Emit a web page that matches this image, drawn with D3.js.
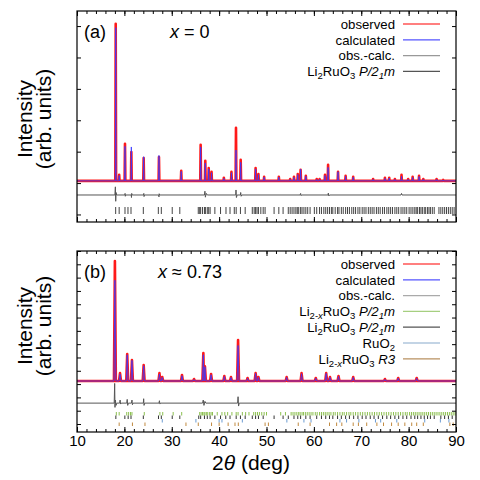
<!DOCTYPE html>
<html><head><meta charset="utf-8">
<script src="https://cdn.jsdelivr.net/npm/d3@7"></script>
<style>
body{margin:0;background:#fff}
svg{display:block}
text{font-family:"Liberation Sans",Arial,Helvetica,sans-serif;fill:#000}
</style>
</head><body><svg id="c" width="480" height="480"></svg>
<script>
// ---------- data ----------
const xTicks = [10, 20, 30, 40, 50, 60, 70, 80, 90];
const xMinorTicks = [10,12,14,16,18,20,22,24,26,28,30,32,34,36,38,40,42,44,46,48,50,52,54,56,58,60,62,64,66,68,70,72,74,76,78,80,82,84,86,88,90];
const yTicksA = [-1, 0, 1, 2, 3, 4, 5];
const yTicksB = [-3, -2, -1, 0, 1, 2, 3, 4, 5, 6, 7, 8, 9, 10];

// panel (a): x = 0
const baseA = 0.07;
const peakPosA = [18.17,18.9,20.13,21.47,24.07,27.3,32.0,36.1,37.08,37.8,38.4,41.0,42.6,43.56,44.55,47.7,48.3,49.5,52.6,55.0,55.8,56.6,57.2,58.3,60.6,61.2,62.35,63.0,65.1,66.7,68.3,72.5,75.0,75.9,77.1,78.5,79.9,80.85,82.2,83.1,85.9,87.3];
const obsTopA = [5.07,0.26,1.25,0.99,0.80,0.83,0.39,1.22,0.71,0.48,0.36,0.17,0.36,1.76,0.74,0.48,0.29,0.20,0.20,0.13,0.20,0.29,0.42,0.23,0.13,0.13,0.26,0.58,0.36,0.23,0.20,0.13,0.17,0.17,0.13,0.26,0.13,0.20,0.23,0.13,0.13,0.10];
const calcTopA = [4.95,0.24,1.17,1.15,0.84,0.88,0.37,1.15,0.64,0.45,0.33,0.15,0.33,1.05,0.66,0.45,0.27,0.19,0.19,0.12,0.18,0.27,0.44,0.22,0.12,0.12,0.24,0.50,0.36,0.22,0.19,0.12,0.15,0.16,0.12,0.22,0.12,0.18,0.21,0.12,0.12,0.10];
const diffA = [[10,-0.38],[18.0,-0.38],[18.1,-0.12],[18.17,-0.58],[18.25,-0.3],[18.35,-0.38],[20.1,-0.38],[20.15,-0.33],[20.2,-0.42],[20.3,-0.38],[21.45,-0.38],[21.5,-0.46],[21.55,-0.33],[21.65,-0.38],[24.05,-0.38],[24.1,-0.33],[24.15,-0.43],[24.25,-0.38],[27.25,-0.38],[27.3,-0.44],[27.35,-0.34],[27.45,-0.38],[36.9,-0.38],[37.0,-0.26],[37.1,-0.45],[37.3,-0.33],[37.5,-0.38],[43.5,-0.38],[43.56,-0.22],[43.65,-0.46],[43.8,-0.38],[44.5,-0.38],[44.55,-0.3],[44.65,-0.42],[44.8,-0.38],[57.1,-0.38],[57.2,-0.33],[57.3,-0.4],[57.4,-0.38],[63.0,-0.38],[63.05,-0.32],[63.15,-0.41],[63.3,-0.38],[78.4,-0.38],[78.5,-0.33],[78.6,-0.38],[90,-0.38]];
const braggA = [18.16,18.9,20.13,20.76,21.4,24.0,27.17,27.8,30.1,31.7,35.6,35.9,36.1,36.5,36.9,37.1,37.5,37.8,38.1,39.1,40.3,41.45,42.3,43.2,43.6,44.5,45.5,47.0,47.4,47.7,48.0,48.3,48.8,49.3,49.7,51.6,52.6,53.5,54.6,55.0,55.4,55.8,56.2,56.5,56.8,57.2,57.5,57.9,58.3,58.7,59.2,60.1,60.6,61.2,61.6,62.1,62.5,62.9,63.3,63.7,64.0,64.5,65.0,65.3,65.8,66.2,66.7,67.1,67.5,68.0,68.4,68.8,69.3,69.7,70.2,70.6,71.0,71.5,71.9,72.3,72.7,73.2,73.6,74.0,74.5,74.9,75.4,75.8,76.2,76.6,77.1,77.5,77.9,78.4,78.8,79.2,79.6,80.1,80.5,80.9,81.3,81.6,81.9,82.3,82.6,82.9,83.3,83.6,84.0,84.3,84.6,85.0,85.4,86.4,86.8,87.2,87.6,88.0,88.4,88.8,89.2,89.6];

// panel (b): x ~ 0.73
const baseB = 0.23;
const peakPosB = [18.0,19.08,20.6,21.6,24.07,27.4,28.0,32.16,34.7,36.67,37.0,38.3,41.1,42.5,44.0,46.0,47.7,48.3,54.25,57.4,60.4,62.6,63.4,65.2,68.3,75.0,77.8,81.7];
const obsTopB = [9.25,0.83,2.26,1.81,1.43,0.83,0.53,0.68,0.38,2.33,1.33,0.76,0.61,0.53,3.31,0.46,0.83,0.53,0.53,0.83,0.46,0.83,0.53,0.61,0.53,0.38,0.46,0.46];
const calcTopB = [7.8,0.75,2.2,1.78,1.38,0.75,0.5,0.63,0.35,2.2,1.3,0.7,0.57,0.5,2.9,0.43,0.8,0.5,0.5,0.78,0.44,0.8,0.5,0.58,0.5,0.36,0.44,0.44];
const diffB = [[10,-1.43],[17.85,-1.43],[17.95,0.05],[18.02,-1.75],[18.1,-1.2],[18.25,-1.6],[18.4,-1.43],[19.0,-1.43],[19.1,-1.2],[19.2,-1.5],[19.35,-1.43],[20.5,-1.43],[20.6,-1.15],[20.7,-1.6],[20.85,-1.43],[21.5,-1.43],[21.6,-1.2],[21.7,-1.55],[21.85,-1.43],[24.0,-1.43],[24.07,-1.1],[24.15,-1.6],[24.3,-1.43],[27.3,-1.43],[27.4,-1.25],[27.5,-1.5],[27.6,-1.43],[36.5,-1.43],[36.65,-1.2],[36.8,-1.6],[37.0,-1.3],[37.2,-1.43],[43.9,-1.43],[44.0,-0.95],[44.1,-1.65],[44.25,-1.43],[90,-1.43]];
const braggGreenB = [18.3,18.9,20.5,20.9,21.3,21.6,24.2,27.5,28.1,30.3,32.1,35.9,36.2,36.5,36.8,37.0,37.3,37.6,38.0,38.3,38.6,39.6,40.6,41.2,41.8,42.7,43.6,44.0,44.9,45.6,46.3,47.3,47.7,48.1,48.5,49.0,49.5,50.0,53.0,54.0,55.2,55.6,56.0,56.4,56.8,57.1,57.5,57.8,58.2,58.6,59.0,59.4,59.8,60.3,60.7,61.2,61.6,62.0,62.4,62.8,63.2,63.6,64.1,64.5,65.0,65.5,66.0,66.4,66.9,67.4,67.8,68.3,68.8,69.3,69.8,70.3,70.8,71.3,71.8,72.3,72.8,73.3,73.8,74.3,74.8,75.3,75.8,76.3,76.8,77.3,77.8,78.3,78.8,79.3,79.7,80.2,80.6,81.0,81.4,81.8,82.2,82.6,83.0,83.4,83.8,84.2,84.6,85.0,85.4,85.8,86.2,86.6,87.0,87.4,87.8,88.2,88.6,89.0,89.4,89.8];
const braggBlackB = [18.2,20.1,20.8,21.4,24.0,27.2,27.8,30.1,31.7,35.7,36.1,36.9,37.5,38.1,39.1,40.3,41.4,42.3,43.6,44.5,45.5,47.0,47.7,48.3,49.3,51.6,53.5,54.6,55.8,56.6,57.2,58.3,59.2,60.6,61.6,62.5,63.3,64.0,65.0,65.8,66.7,67.5,68.4,69.3,70.2,71.0,71.9,72.7,73.6,74.5,75.4,76.2,77.1,77.9,78.8,79.6,80.5,81.3,81.9,82.6,83.3,84.0,84.6,85.4,86.8,87.6,88.4,89.2];
const braggBlueB = [28.0,35.1,40.0,40.6,44.9,54.3,57.9,59.4,65.5,66.9,69.5,73.0,74.1,77.5,83.4,86.7,88.5];
const braggOrangeB = [18.9,21.7,24.35,33.0,35.6,38.4,40.0,41.9,43.35,44.05,49.7,50.4,56.7,59.2,63.3,64.8,65.9,68.3,69.4,71.15,73.3,74.7,76.4,77.8,79.2,80.65,81.7,83.1,88.7,89.4];

const legendA = [
  {segs: [["observed",""]], color: "#ff0000"},
  {segs: [["calculated",""]], color: "#5555ff"},
  {segs: [["obs.-calc.",""]], color: "#999999"},
  {segs: [["Li",""],["2","sub"],["RuO",""],["3","sub"],[" ",""],["P/2","it"],["1","subit"],["m","it"]], color: "#555555"}
];
const legendB = [
  {segs: [["observed",""]], color: "#ff0000"},
  {segs: [["calculated",""]], color: "#5555ff"},
  {segs: [["obs.-calc.",""]], color: "#aaaaaa"},
  {segs: [["Li",""],["2-","sub"],["x","subit"],["RuO",""],["3","sub"],[" ",""],["P/2","it"],["1","subit"],["m","it"]], color: "#a6cf80"},
  {segs: [["Li",""],["2","sub"],["RuO",""],["3","sub"],[" ",""],["P/2","it"],["1","subit"],["m","it"]], color: "#555555"},
  {segs: [["RuO",""],["2","sub"]], color: "#88aacc"},
  {segs: [["Li",""],["2-","sub"],["x","subit"],["RuO",""],["3","sub"],[" ",""],["R3","it"]], color: "#b89060"}
];

// ---------- drawing ----------
const svg = d3.select("#c");
const L = 77, R = 456;
const x = d3.scaleLinear().domain([10, 90]).range([L, R]);

function peakLine(pos, tops, base, hw) {
  const pts = [[10, base], [90, base]];
  pos.forEach((p, i) => { pts.push([p - hw, base], [p, tops[i]], [p + hw, base]); });
  pts.sort((a, b) => a[0] - b[0]);
  return pts;
}

function rich(t, segs) {
  let shifted = false;
  segs.forEach(([s, st]) => {
    const sp = t.append("tspan").text(s);
    const sub = st.includes("sub");
    if (sub && !shifted) { sp.attr("dy", 3); shifted = true; }
    else if (!sub && shifted) { sp.attr("dy", -3); shifted = false; }
    if (sub) sp.attr("font-size", "0.72em");
    if (st.includes("it")) sp.attr("font-style", "italic");
  });
}

function panel(cfg) {
  const y = d3.scaleLinear().domain(cfg.yDomain).range([cfg.bottom, cfg.top]);
  const g = svg.append("g");
  const line = d3.line().x(d => x(d[0])).y(d => y(d[1]));
  g.append("defs").append("clipPath").attr("id", "clip" + cfg.id)
    .append("rect").attr("x", L).attr("y", cfg.top).attr("width", R - L).attr("height", cfg.bottom - cfg.top);
  const pg = g.append("g").attr("clip-path", `url(#clip${cfg.id})`);
  pg.append("path").attr("d", line(peakLine(cfg.pos, cfg.obs, cfg.base, cfg.hw)))
    .attr("fill", "none").attr("stroke", "#ff0000").attr("stroke-width", 2.6).attr("stroke-linejoin", "round").attr("opacity", 0.9);
  pg.append("path").attr("d", line(peakLine(cfg.pos, cfg.calc, cfg.base, cfg.hw)))
    .attr("fill", "none").attr("stroke", "#3a3aff").attr("stroke-width", 1).attr("stroke-linejoin", "round").attr("opacity", 0.85);
  pg.append("path").attr("d", line(cfg.diff)).attr("fill", "none").attr("stroke", "#555").attr("stroke-width", 1);
  cfg.bragg.forEach(b => {
    pg.append("g").selectAll("line").data(b.data).join("line")
      .attr("x1", d => x(d)).attr("x2", d => x(d))
      .attr("y1", b.y1).attr("y2", b.y2)
      .attr("stroke", b.color).attr("stroke-width", 1);
  });

  // axes
  const ax = (gen, tr) => { const a = g.append("g").attr("transform", tr).call(gen); a.select(".domain").remove(); a.selectAll("line").attr("stroke", "#000"); return a; };
  ax(d3.axisBottom(x).tickValues(xMinorTicks).tickSize(-3).tickFormat(""), `translate(0,${cfg.bottom})`);
  const xb = ax(d3.axisBottom(x).tickValues(xTicks).tickSize(-5).tickPadding(3).tickFormat(cfg.labels ? d3.format("d") : ""), `translate(0,${cfg.bottom})`);
  xb.selectAll("text").attr("font-size", 15).attr("font-family", '"Liberation Sans",Arial,sans-serif').attr("fill", "#000");
  ax(d3.axisTop(x).tickValues(xMinorTicks).tickSize(-3).tickFormat(""), `translate(0,${cfg.top})`);
  ax(d3.axisTop(x).tickValues(xTicks).tickSize(-5).tickFormat(""), `translate(0,${cfg.top})`);
  ax(d3.axisLeft(y).tickValues(cfg.yTicks).tickSize(-4).tickFormat(""), `translate(${L},0)`);
  ax(d3.axisRight(y).tickValues(cfg.yTicks).tickSize(-4).tickFormat(""), `translate(${R},0)`);
  g.append("rect").attr("x", L).attr("y", cfg.top).attr("width", R - L).attr("height", cfg.bottom - cfg.top)
    .attr("fill", "none").attr("stroke", "#000").attr("stroke-width", 1.2);

  // legend
  cfg.legend.forEach((e, i) => {
    const cy = cfg.top + 13 + i * 15.8;
    const t = g.append("text").attr("x", 395).attr("y", cy + 4.7).attr("text-anchor", "end").attr("font-size", 13.2);
    rich(t, e.segs);
    g.append("line").attr("x1", 403).attr("x2", 440).attr("y1", cy).attr("y2", cy).attr("stroke", e.color).attr("stroke-width", 1.2);
  });

  // panel labels
  g.append("text").attr("x", 84).attr("y", cfg.top + 27).attr("font-size", 18).text(cfg.tag);
  const xt = g.append("text").attr("x", cfg.xLabelX).attr("y", cfg.top + 27).attr("font-size", 18);
  xt.append("tspan").attr("font-style", "italic").text("x");
  xt.append("tspan").text(cfg.xText);

  // y label
  const yl = g.append("g").attr("transform", `translate(0,${cfg.yLabelY})`);
  yl.append("text").attr("transform", "translate(32,0) rotate(-90)").attr("text-anchor", "middle").attr("font-size", 21).text("Intensity");
  yl.append("text").attr("transform", "translate(51,0) rotate(-90)").attr("text-anchor", "middle").attr("font-size", 21).text("(arb. units)");
  return y;
}

panel({id: "A", top: 11, bottom: 222, yDomain: [-1.24, 5.48], yTicks: yTicksA,
  pos: peakPosA, obs: obsTopA, calc: calcTopA, base: baseA, hw: 0.08, diff: diffA,
  bragg: [{data: braggA, y1: 207, y2: 214, color: "#444"}],
  legend: legendA, tag: "(a)", xText: " = 0", xLabelX: 170, yLabelY: 119, labels: false});

panel({id: "B", top: 251, bottom: 432, yDomain: [-3.6, 10], yTicks: yTicksB,
  pos: peakPosB, obs: obsTopB, calc: calcTopB, base: baseB, hw: 0.2, diff: diffB,
  bragg: [
    {data: braggGreenB, y1: 412, y2: 415.5, color: "#8cc04f"},
    {data: braggBlackB, y1: 415.5, y2: 419, color: "#333"},
    {data: braggBlueB, y1: 419, y2: 422.5, color: "#6b9bd1"},
    {data: braggOrangeB, y1: 422.5, y2: 426, color: "#c08a40"}
  ],
  legend: legendB, tag: "(b)", xText: " \u2248 0.73", xLabelX: 158, yLabelY: 326, labels: true});

// x-axis title
const xtitle = svg.append("text").attr("x", 251).attr("y", 470).attr("text-anchor", "middle").attr("font-size", 21);
xtitle.append("tspan").text("2");
xtitle.append("tspan").attr("font-style", "italic").text("\u03b8");
xtitle.append("tspan").text(" (deg)");
</script></body></html>
